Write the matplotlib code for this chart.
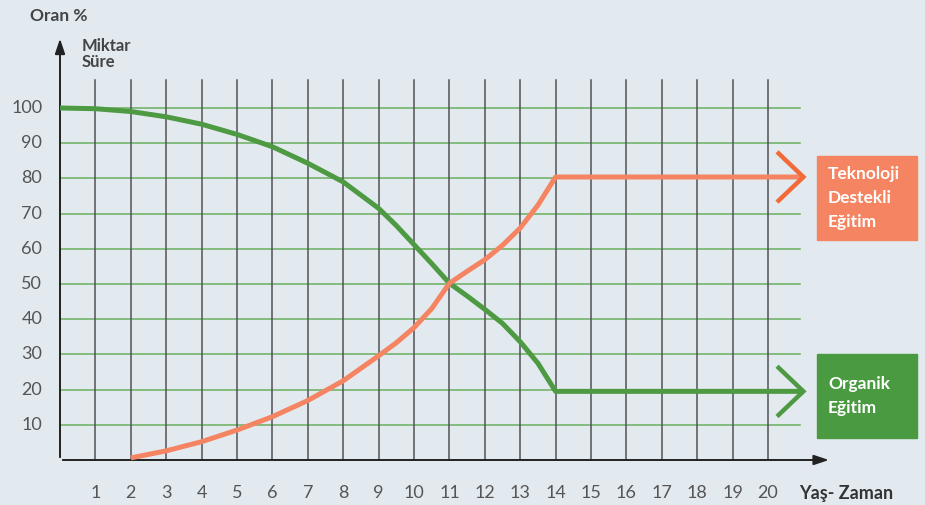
import matplotlib
matplotlib.use("Agg")
import matplotlib.pyplot as plt
from matplotlib.patches import Rectangle

# values
years = list(range(0, 21))
x_labels = [str(i) for i in range(1, 21)]
y_ticks = [10, 20, 30, 40, 50, 60, 70, 80, 90, 100]

organic_x = [0, 1, 2, 3, 4, 5, 6, 7, 8, 9, 9.5, 10, 10.5, 11, 11.5, 12, 12.5, 13, 13.5, 14, 21.0]
organic_y = [100, 99.8, 99.0, 97.5, 95.4, 92.5, 89.0, 84.3, 79.0, 71.5, 66.6, 61.2, 55.8, 50.2,
             46.6, 42.8, 38.8, 33.6, 27.5, 19.5, 19.5]

tech_x = [2, 3, 4, 5, 6, 7, 8, 9, 9.5, 10, 10.5, 11, 11.5, 12, 12.5, 13, 13.5, 14, 21.0]
tech_y = [0.6, 2.6, 5.2, 8.5, 12.3, 16.9, 22.5, 29.6, 33.3, 37.6, 43.0, 50.2, 53.6, 56.9,
          61.0, 65.9, 72.4, 80.4, 80.4]

BG = "#E2EAF0"
GREEN = "#4E9A43"
ORANGE = "#F58462"
GRID_G = "#6CAE5F"
FONT = ["Lato", "DejaVu Sans"]

fig = plt.figure(figsize=(9.25, 5.05), dpi=100)
fig.patch.set_facecolor(BG)
ax = fig.add_axes([0, 0, 1, 1])
ax.set_facecolor(BG)
# pixel mapping: x=0 at px 60, 35.4 px/unit ; y=0 at px 460, 3.52 px/unit
ax.set_xlim(-60 / 35.4, (925 - 60) / 35.4)
ax.set_ylim((460 - 505) / 3.52, 460 / 3.52)
ax.axis("off")

# grid
for y in y_ticks:
    ax.plot([0, 20.9], [y, y], color=GRID_G, lw=1.1, zorder=1)
for x in years[1:]:
    ax.plot([x, x], [0, 108], color="#505358", lw=1.1, zorder=1)

# axes with arrows
ax.annotate("", xy=(21.8, 0), xytext=(0, 0),
            arrowprops=dict(arrowstyle="-|>,head_length=0.9,head_width=0.3", color="#222", lw=1.4), zorder=3)
ax.annotate("", xy=(0, 120.5), xytext=(0, 0),
            arrowprops=dict(arrowstyle="-|>,head_length=0.9,head_width=0.3", color="#222", lw=1.4), zorder=3)

# curves
ax.plot(organic_x, organic_y, color=GREEN, lw=3.6, solid_capstyle="butt",
        solid_joinstyle="round", zorder=4)
ax.plot(tech_x, tech_y, color=ORANGE, lw=3.6, solid_capstyle="butt",
        solid_joinstyle="round", zorder=5)

# chevrons at the end of each line
for yy, col in [(organic_y[-1], GREEN), (tech_y[-1], "#F26A3A")]:
    ax.plot([20.3, 21.0, 20.3], [yy + 6.7, yy, yy - 6.7], color=col, lw=3.2,
            solid_joinstyle="miter", zorder=5)

# labels
for i, lab in enumerate(x_labels):
    ax.text(i + 1, -9.4, lab, ha="center", va="center", fontsize=13,
            color="#555", family=FONT)
for y in y_ticks:
    ax.text(-0.5, y, str(y), ha="right", va="center", fontsize=13,
            color="#555", family=FONT)

ax.text(-0.85, 126.0, "Oran %", ha="left", va="center", fontsize=12.5,
        fontweight="bold", color="#444", family=FONT)
ax.text(0.62, 115.3, "Miktar\nSüre", ha="left", va="center", fontsize=12,
        fontweight="bold", color="#444", family=FONT, linespacing=1.0)
ax.text(20.88, -9.6, "Yaş- Zaman", ha="left", va="center", fontsize=13,
        fontweight="bold", color="#333", family=FONT)

# legend boxes
def box(x0, y0, col, text):
    w = 100 / 35.4
    h = 84 / 3.52
    ax.add_patch(Rectangle((x0, y0), w, h, color=col, zorder=6))
    ax.text(x0 + 11 / 35.4, y0 + h / 2, text, ha="left", va="center",
            fontsize=12.5, fontweight="bold", color="white", family=FONT,
            linespacing=1.6, zorder=7)

box((817 - 60) / 35.4, (460 - 240) / 3.52, ORANGE, "Teknoloji\nDestekli\nEğitim")
box((817 - 60) / 35.4, (460 - 438) / 3.52, "#4A9A42", "Organik\nEğitim")

fig.savefig("out.png", dpi=100, facecolor=BG)
